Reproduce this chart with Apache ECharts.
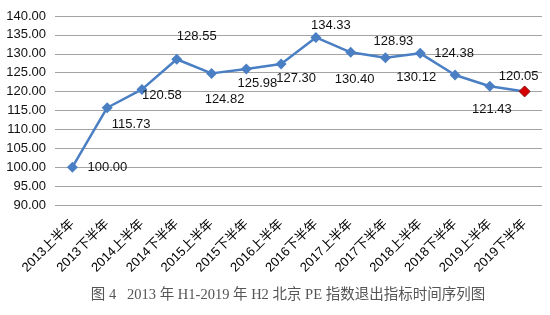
<!DOCTYPE html>
<html><head><meta charset="utf-8">
<script src="https://cdn.jsdelivr.net/npm/echarts@6/dist/echarts.min.js"></script>
<style>html,body{margin:0;padding:0;background:#fff}#c{width:550px;height:315px}</style>
</head><body><div id="c"></div>
<script>
var categories = ['2013上半年','2013下半年','2014上半年','2014下半年','2015上半年','2015下半年','2016上半年','2016下半年','2017上半年','2017下半年','2018上半年','2018下半年','2019上半年','2019下半年'];
var values = [100.00,115.73,120.58,128.55,124.82,125.98,127.30,134.33,130.40,128.93,130.12,124.38,121.43,120.05];
var yTicks = {min: 90, max: 140, interval: 5};
var titleText = '图 4   2013 年 H1-2019 年 H2 北京 PE 指数退出指标时间序列图';
// label offsets (style only)
var labelOffsets = [[35,0],[24,17],[20,6],[20,-23],[13,26],[11,14],[15,14],[15,-12],[4,27],[8,-16],[-4,24],[-1,-22],[2,23],[-6,-15]];

var data = values.map(function(v,i){
  var item = {value: v, label: {offset: labelOffsets[i]}};
  if (i === values.length-1) item.itemStyle = {color: '#d40000', borderColor: '#8a1010', borderWidth: 1};
  return item;
});

var chart = echarts.init(document.getElementById('c'), null, {renderer:'canvas'});
chart.setOption({
  animation: false,
  grid: {left: 55, right: 8, top: 16, bottom: 110},
  xAxis: {
    type: 'category', data: categories, boundaryGap: true,
    axisLine: {show: false}, axisTick: {show: false},
    axisLabel: {rotate: 45, interval: 0, fontSize: 13, color: '#000', margin: 17, fontFamily: 'Liberation Sans, Noto Sans CJK SC'}
  },
  yAxis: {
    type: 'value', min: yTicks.min, max: yTicks.max, interval: yTicks.interval,
    axisLine: {show: false}, axisTick: {show: false},
    axisLabel: {fontSize: 13, color: '#111', margin: 9, fontFamily: 'Liberation Sans',
      formatter: function(v){return v.toFixed(2);}},
    splitLine: {lineStyle: {color: '#a3a3a3', width: 1}}
  },
  series: [{
    type: 'line', data: data,
    symbol: 'diamond', symbolSize: 11,
    lineStyle: {color: '#4a7fc4', width: 2.5},
    itemStyle: {color: '#4a7fc4'},
    label: {show: true, position: 'inside', fontSize: 13, color: '#111', fontFamily: 'Liberation Sans',
      formatter: function(p){return p.value.toFixed(2);}}
  }],
  graphic: [{
    type: 'text', x: 288, y: 295,
    style: {text: titleText, fontSize: 14.5, fill: '#555', textAlign: 'center', textVerticalAlign: 'middle',
      fontFamily: 'Liberation Serif, Noto Sans CJK SC'}
  }]
});
</script></body></html>
